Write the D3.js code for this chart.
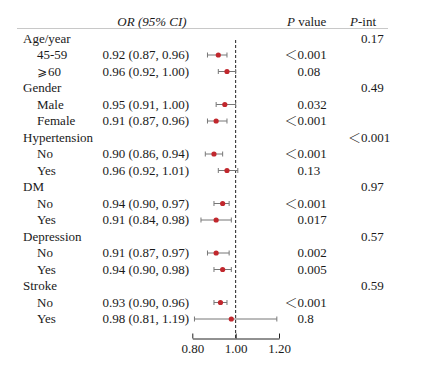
<!DOCTYPE html>
<html>
<head>
<meta charset="utf-8">
<script src="https://cdn.jsdelivr.net/npm/d3@7"></script>
<style>
  body { margin: 0; background: #fff; }
  svg text { font-family: "Liberation Serif", "Times New Roman", serif; font-size: 13px; fill: #1a1a1a; }
  .sym { font-family: "Noto Sans CJK SC", "DejaVu Sans", sans-serif; font-weight: 300; }
  .geq { font-family: "DejaVu Sans", sans-serif; font-size: 12px; }
</style>
</head>
<body>
<div id="chart"></div>
<script>
// subgroup rows
const groups = ["Age/year", "Gender", "Hypertension", "DM", "Depression", "Stroke"];
const subLabels = [["45-59", "≥60"], ["Male", "Female"], ["No", "Yes"], ["No", "Yes"], ["No", "Yes"], ["No", "Yes"]];
const orVals = [[0.92, 0.96], [0.95, 0.91], [0.90, 0.96], [0.94, 0.91], [0.91, 0.94], [0.93, 0.98]];
const ciLow  = [[0.87, 0.92], [0.91, 0.87], [0.86, 0.92], [0.90, 0.84], [0.87, 0.90], [0.90, 0.81]];
const ciHigh = [[0.96, 1.00], [1.00, 0.96], [0.94, 1.01], [0.97, 0.98], [0.97, 0.98], [0.96, 1.19]];
const pVals  = [["<0.001", "0.08"], ["0.032", "<0.001"], ["<0.001", "0.13"], ["<0.001", "0.017"], ["0.002", "0.005"], ["<0.001", "0.8"]];
const pInt   = ["0.17", "0.49", "<0.001", "0.97", "0.57", "0.59"];
const xTicks = [0.80, 1.00, 1.20];

// build flat row list
let rows = [];
groups.forEach((g, i) => {
    rows.push({type: "group", label: g, pint: pInt[i]});
    subLabels[i].forEach((s, j) => {
        rows.push({type: "sub", label: s, or: orVals[i][j], lo: ciLow[i][j], hi: ciHigh[i][j], p: pVals[i][j]});
    });
});
rows.forEach((r, i) => r.id = i);

const width = 422, height = 365;

const svg = d3.select("#chart").append("svg")
    .attr("width", width)
    .attr("height", height);

const y = d3.scalePoint()
    .domain(rows.map(r => r.id))
    .range([38, 318.5]);

const x = d3.scaleLinear()
    .domain([0.8, 1.2])
    .range([192.3, 279]);

// header
svg.append("line")
    .attr("x1", 17).attr("x2", 388)
    .attr("y1", 28.5).attr("y2", 28.5)
    .attr("stroke", "#c8c8c8").attr("stroke-width", 1);

svg.append("text").attr("x", 152).attr("y", 21).attr("dy", "0.35em")
    .attr("text-anchor", "middle").style("font-style", "italic")
    .text("OR (95% CI)");

let ph = svg.append("text").attr("x", 287).attr("y", 21).attr("dy", "0.35em");
ph.append("tspan").style("font-style", "italic").text("P");
ph.append("tspan").text(" value");

let pi = svg.append("text").attr("x", 350).attr("y", 21).attr("dy", "0.35em");
pi.append("tspan").style("font-style", "italic").text("P");
pi.append("tspan").text("-int");

// wide symbols (＜, ⩾) drawn like the original
function symText(sel, xPos, val, anchorRight) {
    let t = sel.append("text").attr("x", xPos).attr("dy", "0.35em");
    let m = val.match(/^([<≥])(.*)$/);
    if (m) {
        if (m[1] === "<") {
            if (anchorRight) {
                sel.append("text").attr("class", "sym")
                    .attr("x", xPos).attr("dy", "0.35em")
                    .attr("text-anchor", "end").text("＜");
                t.text(m[2]);
            } else {
                t.append("tspan").attr("class", "sym").text("＜");
                t.append("tspan").text(m[2]);
            }
        } else {
            t.append("tspan").attr("class", "geq").text("⩾");
            t.append("tspan").attr("dx", 1).text(m[2]);
        }
    } else {
        t.text(val);
    }
}

const rowG = svg.selectAll(".row")
    .data(rows)
    .enter().append("g")
    .attr("class", "row")
    .attr("transform", d => `translate(0, ${y(d.id)})`);

rowG.each(function(d) {
    let g = d3.select(this);
    if (d.type === "group") {
        g.append("text").attr("x", 23).attr("dy", "0.35em").text(d.label);
        symText(g, 361, d.pint, true);
    } else {
        symText(g, 37, d.label, false);
        g.append("text").attr("x", 102.5).attr("dy", "0.35em")
            .text(`${d.or.toFixed(2)} (${d.lo.toFixed(2)}, ${d.hi.toFixed(2)})`);
        symText(g, 297.5, d.p, true);
    }
});

// reference line
svg.append("line")
    .attr("x1", x(1)).attr("x2", x(1))
    .attr("y1", 40).attr("y2", 338.5)
    .attr("stroke", "#222").attr("stroke-width", 1)
    .attr("stroke-dasharray", "3,2");

const subs = rows.filter(r => r.type === "sub");

// whiskers
svg.selectAll(".ci")
    .data(subs)
    .enter().append("line")
    .attr("class", "ci")
    .attr("x1", d => x(d.lo)).attr("x2", d => x(d.hi))
    .attr("y1", d => y(d.id) + 0.5).attr("y2", d => y(d.id) + 0.5)
    .attr("stroke", "#777").attr("stroke-width", 1);

["lo", "hi"].forEach(k => {
    svg.selectAll(".cap-" + k)
        .data(subs)
        .enter().append("line")
        .attr("class", "cap-" + k)
        .attr("x1", d => x(d[k])).attr("x2", d => x(d[k]))
        .attr("y1", d => y(d.id) - 2).attr("y2", d => y(d.id) + 3)
        .attr("stroke", "#777").attr("stroke-width", 1);
});

svg.selectAll(".pt")
    .data(subs)
    .enter().append("circle")
    .attr("class", "pt")
    .attr("cx", d => x(d.or))
    .attr("cy", d => y(d.id) + 0.5)
    .attr("r", 2.6)
    .attr("fill", "#c1272d");

// x axis
const xAxis = svg.append("g")
    .attr("class", "x-axis axis")
    .attr("transform", "translate(0, 338.5)")
    .call(d3.axisBottom(x)
        .tickValues(xTicks)
        .tickFormat(d3.format(".2f"))
        .tickSizeInner(-5)
        .tickSizeOuter(0)
        .tickPadding(5));

xAxis.select(".domain").attr("stroke", "#222");
xAxis.selectAll(".tick line").attr("stroke", "#222");
xAxis.selectAll(".tick text")
    .style("font-family", "\"Liberation Serif\", \"Times New Roman\", serif")
    .style("font-size", "13px").attr("fill", "#1a1a1a");
</script>
</body>
</html>
